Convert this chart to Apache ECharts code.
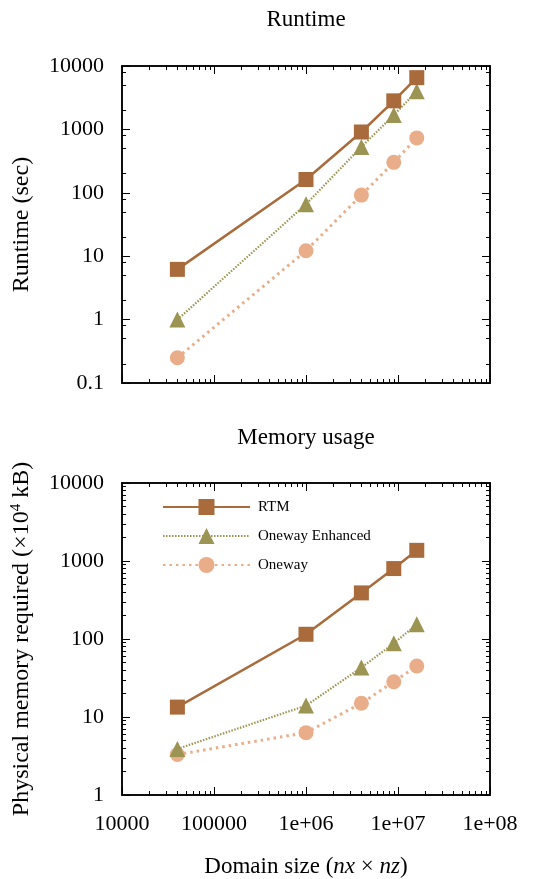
<!DOCTYPE html>
<html>
<head>
<meta charset="utf-8">
<script src="https://cdn.jsdelivr.net/npm/echarts@6/dist/echarts.min.js"></script>
<style>
  html, body { margin: 0; padding: 0; background: #fff; }
  #chart { width: 545px; height: 879px; }
</style>
</head>
<body>
<div id="chart"></div>
<script>
// domain sizes nx*nz (200^2, 1000^2, 2000^2, 3000^2, 4000^2)
const domainSize = [4e4, 1e6, 4e6, 9e6, 1.6e7];

// runtime in seconds
const rtmRuntime = [6.2, 162, 910, 2820, 6550];
const enhancedRuntime = [1.0, 66, 530, 1680, 4000];
const onewayRuntime = [0.25, 12.2, 92, 302, 735];

// physical memory, x 10^4 kB
const rtmMemory = [13.4, 115, 390, 800, 1370];
const enhancedMemory = [3.9, 14, 43, 88, 154];
const onewayMemory = [3.3, 6.3, 15, 28.3, 45];

const seriesNames = ['RTM', 'Oneway Enhanced', 'Oneway'];

const xTickValues = [1e4, 1e5, 1e6, 1e7, 1e8];
const xTickLabels = ['10000', '100000', '1e+06', '1e+07', '1e+08'];
const yTickValuesTop = [0.1, 1, 10, 100, 1000, 10000];
const yTickLabelsTop = ['0.1', '1', '10', '100', '1000', '10000'];
const yTickValuesBottom = [1, 10, 100, 1000, 10000];
const yTickLabelsBottom = ['1', '10', '100', '1000', '10000'];

// minor tick multipliers per decade
const xMinorMult = [2, 3, 4, 5, 6, 7, 8, 9];
const yMinorMultTop = [2, 5, 8];
const yMinorMultBottom = [2, 3, 4, 5, 6, 7, 8, 9];

const colors = ['#a96b3c', '#9c9452', '#eaad89'];
const FONT = 'Liberation Serif';

function minorValues(majors, mult) {
  let out = [];
  for (let i = 0; i < majors.length - 1; i++) {
    mult.forEach(m => out.push(majors[i] * m));
  }
  return out;
}

function labelFor(values, labels) {
  return function (v) {
    let best = 0;
    values.forEach((t, i) => {
      if (Math.abs(Math.log10(t) - Math.log10(v)) < Math.abs(Math.log10(values[best]) - Math.log10(v))) best = i;
    });
    return labels[best];
  };
}

const grids = [
  { left: 122, right: 55, top: 66, height: 317 },
  { left: 122, right: 55, top: 483, height: 314 }
];

let xAxes = [], yAxes = [];

function makeAxis(kind, g, pos, major, opts) {
  let ax = {
    type: 'log',
    logBase: 10,
    gridIndex: g,
    position: pos,
    min: opts.min,
    max: opts.max,
    axisLine: { show: true, onZero: false, lineStyle: { color: '#000', width: 1.5 } },
    splitLine: { show: false },
    minorTick: { show: false },
    axisTick: {
      show: true,
      inside: true,
      length: major ? 8 : 4,
      lineStyle: { color: '#000', width: 1 },
      customValues: major ? opts.ticks : minorValues(opts.ticks, opts.mult)
    },
    axisLabel: { show: false }
  };
  if (major && opts.labels) {
    ax.axisLabel = {
      show: true,
      customValues: opts.ticks,
      formatter: labelFor(opts.ticks, opts.labels),
      fontFamily: FONT,
      fontSize: 22,
      color: '#000',
      margin: 18
    };
  }
  if (opts.name) {
    const fs = opts.nameSize;
    ax.name = opts.name;
    ax.nameLocation = 'middle';
    ax.nameGap = opts.nameGap;
    ax.nameTextStyle = {
      fontFamily: FONT, fontSize: fs, color: '#000',
      rich: {
        i: { fontFamily: FONT, fontSize: fs, fontStyle: 'italic', color: '#000' },
        sup: { fontFamily: FONT, fontSize: 15, color: '#000', verticalAlign: 'top', padding: [0, 0, 10, 0] }
      }
    };
  }
  return ax;
}

for (let g = 0; g < 2; g++) {
  const yTicks = g === 0 ? yTickValuesTop : yTickValuesBottom;
  const yLabels = g === 0 ? yTickLabelsTop : yTickLabelsBottom;
  const yMult = g === 0 ? yMinorMultTop : yMinorMultBottom;
  const xBase = { min: 1e4, max: 1e8, ticks: xTickValues, mult: xMinorMult };
  const yBase = { min: yTicks[0], max: yTicks[yTicks.length - 1], ticks: yTicks, mult: yMult };

  xAxes.push(makeAxis('x', g, 'bottom', true, Object.assign({}, xBase, g === 1 ? {
    labels: xTickLabels,
    name: 'Domain size ({i|nx} × {i|nz})',
    nameGap: 60,
    nameSize: 23
  } : {})));
  xAxes.push(makeAxis('x', g, 'bottom', false, xBase));
  xAxes.push(makeAxis('x', g, 'top', true, xBase));
  xAxes.push(makeAxis('x', g, 'top', false, xBase));

  yAxes.push(makeAxis('y', g, 'left', true, Object.assign({}, yBase, {
    labels: yLabels,
    name: g === 0 ? 'Runtime (sec)' : 'Physical memory required (×10{sup|4} kB)',
    nameGap: 88,
    nameSize: 24
  })));
  yAxes.push(makeAxis('y', g, 'left', false, yBase));
  yAxes.push(makeAxis('y', g, 'right', true, yBase));
  yAxes.push(makeAxis('y', g, 'right', false, yBase));
}

const symbols = ['rect', 'triangle', 'circle'];
const lineTypes = ['solid', [1.5, 1.5], [2.5, 4]];
const lineWidths = [2.5, 2.2, 3];
const runtimeData = [rtmRuntime, enhancedRuntime, onewayRuntime];
const memoryData = [rtmMemory, enhancedMemory, onewayMemory];

let series = [];
[runtimeData, memoryData].forEach((set, g) => {
  set.forEach((vals, k) => {
    series.push({
      name: seriesNames[k],
      type: 'line',
      xAxisIndex: g * 4,
      yAxisIndex: g * 4,
      data: domainSize.map((x, i) => [x, vals[i]]),
      symbol: symbols[k],
      symbolSize: k === 1 ? 16 : 15,
      showAllSymbol: true,
      color: colors[k],
      lineStyle: { color: colors[k], width: lineWidths[k], type: lineTypes[k] },
      itemStyle: { color: colors[k] },
      emphasis: { disabled: true },
      z: 3 - k
    });
  });
});

const chart = echarts.init(document.getElementById('chart'), null, { renderer: 'canvas' });

chart.setOption({
  backgroundColor: '#fff',
  animation: false,
  graphic: [
    { type: 'text', x: 306, y: 20, style: { text: 'Runtime', font: '23px "Liberation Serif"', fill: '#000', textAlign: 'center', textVerticalAlign: 'middle' } },
    { type: 'text', x: 306, y: 438, style: { text: 'Memory usage', font: '23px "Liberation Serif"', fill: '#000', textAlign: 'center', textVerticalAlign: 'middle' } }
  ],
  legend: {
    data: seriesNames,
    orient: 'vertical',
    left: 162,
    top: 499,
    padding: 0,
    itemWidth: 87,
    itemHeight: 20,
    itemGap: 13,
    selectedMode: false,
    textStyle: { fontFamily: FONT, fontSize: 15, color: '#000', padding: [0, 0, 0, 3] }
  },
  grid: grids,
  xAxis: xAxes,
  yAxis: yAxes,
  series: series
});
</script>
</body>
</html>
